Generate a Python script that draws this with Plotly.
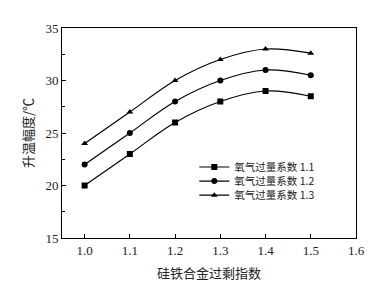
import plotly.graph_objects as go

x_vals = [1.0, 1.1, 1.2, 1.3, 1.4, 1.5]
s11 = [20, 23, 26, 28, 29, 28.5]
s12 = [22, 25, 28, 30, 31, 30.5]
s13 = [24, 27, 30, 32, 33, 32.6]
names = ["氧气过量系数 1.1", "氧气过量系数 1.2", "氧气过量系数 1.3"]
symbols = ["square", "circle", "triangle-up"]
legend_ids = ["legend", "legend2", "legend3"]

serif = "Liberation Serif, Times New Roman, serif"
cjk = "Noto Sans CJK SC"

fig = go.Figure()
for ys, nm, sym, lg in zip([s11, s12, s13], names, symbols, legend_ids):
    fig.add_trace(go.Scatter(
        x=x_vals, y=ys, name=nm, mode="lines+markers", legend=lg,
        line=dict(color="black", width=1.2, shape="spline", smoothing=1.0),
        marker=dict(symbol=sym, size=6, color="black"),
    ))

legend_common = dict(xanchor="left", yanchor="middle", bgcolor="rgba(0,0,0,0)",
                     font=dict(family=cjk, size=10.5, color="#222"), itemwidth=30,
                     borderwidth=0)
leg_x = 0.45
leg_y = [0.338, 0.271, 0.204]

fig.update_layout(
    width=382, height=283,
    margin=dict(l=54, r=34, t=20, b=45),
    paper_bgcolor="white", plot_bgcolor="white",
    font=dict(family=serif, size=13, color="#222"),
    showlegend=True,
    legend=dict(x=leg_x, y=leg_y[0], **legend_common),
    legend2=dict(x=leg_x, y=leg_y[1], **legend_common),
    legend3=dict(x=leg_x, y=leg_y[2], **legend_common),
    xaxis=dict(range=[0.95, 1.6], tickmode="array",
               tickvals=[1.0, 1.1, 1.2, 1.3, 1.4, 1.5, 1.6],
               ticktext=["1.0", "1.1", "1.2", "1.3", "1.4", "1.5", "1.6"],
               ticks="inside", ticklen=4, tickcolor="black",
               showline=True, linecolor="black", linewidth=1, mirror=True,
               showgrid=False, zeroline=False,
               title=dict(text="硅铁合金过剩指数", font=dict(family=cjk, size=13, color="#222"), standoff=12)),
    yaxis=dict(range=[15, 35], tickmode="array", tickvals=[15, 20, 25, 30, 35],
               ticks="inside", ticklen=4, tickcolor="black",
               minor=dict(tickvals=[17.5, 22.5, 27.5, 32.5], ticks="inside", ticklen=3, tickcolor="black"),
               showline=True, linecolor="black", linewidth=1, mirror=True,
               showgrid=False, zeroline=False,
               title=dict(text="升温幅度/℃", font=dict(family=cjk, size=13, color="#222"), standoff=8)),
)

fig.write_html("out.html")
